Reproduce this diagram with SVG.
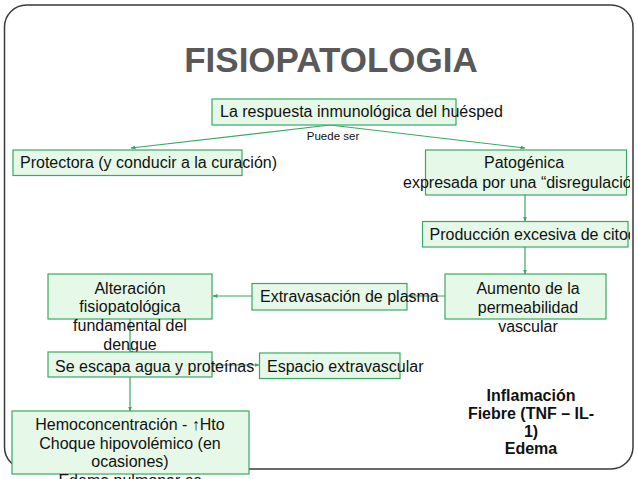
<svg xmlns="http://www.w3.org/2000/svg" width="638" height="479" viewBox="0 0 638 479">
<style>
.box{fill:#e6f9e8;stroke:#3aa864;stroke-width:1.2}
.t{font-family:"Liberation Sans",Arial,sans-serif;font-size:16px;fill:#111}
.c{text-anchor:middle}
.b{font-weight:bold}
.conn{stroke:#3aa864;stroke-width:1.2;fill:none;marker-end:url(#ah)}
</style>
<defs>
<marker id="ah" viewBox="0 0 10 10" refX="9" refY="5" markerWidth="5" markerHeight="5" orient="auto" markerUnits="userSpaceOnUse">
<path d="M0,1 L10,5 L0,9 z" fill="#3aa864"/>
</marker>
<clipPath id="rc"><rect x="0" y="0" width="630" height="479"/></clipPath>
</defs>
<rect width="638" height="479" fill="#fff"/>
<rect id="frame" x="4.5" y="5" width="628.5" height="464" rx="22" ry="22" fill="none" stroke="#3a3a3a" stroke-width="1.5"/>
<text id="title" x="331" y="72" class="t c b" style="font-size:35px;fill:#595959">FISIOPATOLOGIA</text>
<g id="connectors">
<line class="conn" x1="330" y1="125" x2="131" y2="148"/>
<line class="conn" x1="330" y1="125" x2="525" y2="148"/>
<line class="conn" x1="525" y1="195" x2="525" y2="221"/>
<line class="conn" x1="525" y1="247" x2="525" y2="274"/>
<line class="conn" x1="445" y1="296" x2="408" y2="296"/>
<line class="conn" x1="252" y1="296" x2="213" y2="296"/>
<line class="conn" x1="130" y1="319" x2="130" y2="352"/>
<line class="conn" x1="212" y1="365" x2="259" y2="365"/>
<line class="conn" x1="130" y1="377" x2="130" y2="411"/>
<text x="333" y="140" class="t c" style="font-size:11.5px">Puede ser</text>
</g>
<g id="n-respuesta">
<rect class="box" x="212" y="99" width="244" height="26"/>
<text x="220" y="117" class="t">La respuesta inmunológica del huésped</text>
</g>
<g id="n-protectora">
<rect class="box" x="13" y="150" width="229" height="25.5"/>
<text x="20" y="167.5" class="t">Protectora (y conducir a la curación)</text>
</g>
<g id="n-patogenica" clip-path="url(#rc)">
<rect class="box" x="425.5" y="150" width="201" height="45"/>
<text x="524" y="167.5" class="t c">Patogénica</text>
<text x="403" y="187.5" class="t">expresada por una “disregulación”</text>
</g>
<g id="n-produccion" clip-path="url(#rc)">
<rect class="box" x="422.5" y="221.5" width="205.5" height="25.5"/>
<text x="429.5" y="240" class="t">Producción excesiva de citoquinas</text>
</g>
<g id="n-aumento">
<rect class="box" x="445" y="274" width="161" height="45"/>
<text x="528" y="293.5" class="t c">Aumento de la</text>
<text x="528" y="312.5" class="t c">permeabilidad</text>
<text x="528" y="331.5" class="t c">vascular</text>
</g>
<g id="n-extravasacion">
<rect class="box" x="252" y="283.5" width="155" height="26.5"/>
<text x="260" y="302" class="t">Extravasación de plasma</text>
</g>
<g id="n-alteracion">
<rect class="box" x="48" y="274" width="164" height="45"/>
<text x="130" y="293.5" class="t c">Alteración</text>
<text x="130" y="312.3" class="t c">fisiopatológica</text>
<text x="130" y="331" class="t c">fundamental del</text>
<text x="130" y="349.7" class="t c">dengue</text>
</g>
<g id="n-escapa">
<rect class="box" x="48" y="352" width="164" height="25"/>
<text x="55" y="371.7" class="t">Se escapa agua y proteínas</text>
</g>
<g id="n-espacio">
<rect class="box" x="259.5" y="353" width="140.5" height="25.5"/>
<text x="267" y="372" class="t">Espacio extravascular</text>
</g>
<g id="n-hemo">
<rect class="box" x="12" y="411" width="237" height="63"/>
<text x="130" y="430" class="t c">Hemoconcentración - ↑Hto</text>
<text x="130" y="448.5" class="t c">Choque hipovolémico (en</text>
<text x="130" y="467" class="t c">ocasiones)</text>
<text x="130" y="485.5" class="t c">Edema pulmonar es</text>
</g>
<g id="n-inflamacion">
<text x="531" y="401" class="t c b">Inflamación</text>
<text x="531" y="419" class="t c b">Fiebre (TNF – IL-</text>
<text x="531" y="436.7" class="t c b">1)</text>
<text x="531" y="454" class="t c b">Edema</text>
</g>
</svg>
